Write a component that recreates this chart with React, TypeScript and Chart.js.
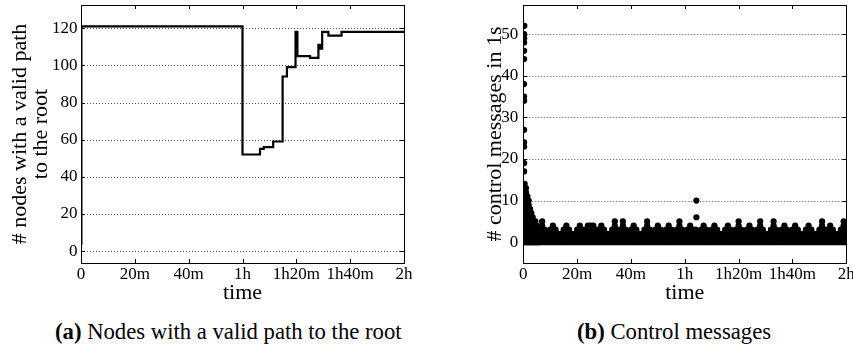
import React, { useEffect, useRef } from "react";
import { Chart, registerables } from "chart.js";

Chart.register(...registerables);

// ---------- data ----------
const xTickValues = [0, 20, 40, 60, 80, 100, 120]; // minutes
const xTickLabels = ["0", "20m", "40m", "1h", "1h20m", "1h40m", "2h"];
const nodeTicks = [0, 20, 40, 60, 80, 100, 120];
const msgTicks = [0, 10, 20, 30, 40, 50];

// (a) number of nodes with a valid path (step series, value holds until next change)
const stepTimes = [0, 0.15, 60.0, 66.5, 67.9, 71.4, 74.9, 76.5, 79.7, 80.0, 80.2, 80.4, 85.1, 88.2, 88.8, 89.6, 91.9, 96.8, 120];
const nodeCounts = [4, 121, 52, 55, 56, 59, 94, 99, 118, 105, 118, 105, 104, 111, 109, 118, 116, 118, 118];

// (b) control messages: dense band, per sample window the highest count seen
// (every count from 0 up to that maximum occurs within the window)
const bandTimes = [
  0, 0.5, 1, 1.5, 2, 2.5, 3, 3.5, 4, 4.5, 5, 5.5, 6,
  7, 8, 9, 10, 11, 12, 13, 14, 15, 16,
  17, 18, 19, 20, 21, 22, 23, 24, 25, 26,
  27, 28, 29, 30, 31, 32, 33, 34, 35, 36,
  37, 38, 39, 40, 41, 42, 43, 44, 45, 46,
  47, 48, 49, 50, 51, 52, 53, 54, 55, 56,
  57, 58, 59, 60, 61, 62, 63, 64, 65, 66,
  67, 68, 69, 70, 71, 72, 73, 74, 75, 76,
  77, 78, 79, 80, 81, 82, 83, 84, 85, 86,
  87, 88, 89, 90, 91, 92, 93, 94, 95, 96,
  97, 98, 99, 100, 101, 102, 103, 104, 105, 106,
  107, 108, 109, 110, 111, 112, 113, 114, 115, 116,
  117, 118, 119, 120,
];
const bandMax = [
  14, 14, 13, 11, 10, 8, 7, 6, 5, 5, 4, 3, 2,
  5, 3, 2, 3, 4, 3, 2, 2, 3, 4,
  3, 2, 2, 3, 4, 3, 3, 4, 4, 4,
  3, 3, 4, 3, 2, 2, 3, 5, 3, 3,
  5, 3, 2, 3, 4, 3, 2, 2, 3, 5,
  3, 2, 3, 4, 3, 2, 3, 4, 3, 2,
  3, 5, 3, 2, 3, 4, 3, 3, 2, 3,
  4, 3, 2, 3, 4, 3, 2, 2, 3, 4,
  3, 2, 3, 5, 3, 2, 3, 4, 3, 2,
  3, 5, 3, 2, 2, 3, 5, 3, 2, 3,
  4, 3, 2, 3, 4, 3, 2, 2, 3, 4,
  3, 2, 2, 3, 5, 3, 3, 4, 3, 2,
  2, 3, 5, 3,
];
// isolated high counts
const isolatedTimes = [0.4, 0.3, 0.3, 0.3, 0.3, 0.3, 0.3, 0.3, 0.3, 0.3, 0.3, 0.3, 0.3, 0.3, 64.3, 64.3];
const isolatedCounts = [52, 50, 49, 48, 46, 44, 38, 35, 34, 27, 24, 23, 19, 17, 10, 6];

// ---------- styling ----------
const FONT = "'Liberation Serif', 'Times New Roman', serif";
const TICK_FONT = { family: FONT, size: 17 };
const TITLE_SIZE = 22;

const framePlugin = {
  id: "frame",
  beforeDatasetsDraw(chart: any) {
    const { ctx, chartArea: a, scales } = chart;
    const y = scales.y;
    ctx.save();
    ctx.strokeStyle = "#555";
    ctx.lineWidth = 1;
    ctx.setLineDash([1, 2]);
    y.ticks.forEach((t: any) => {
      const py = Math.round(y.getPixelForValue(t.value)) + 0.5;
      ctx.beginPath();
      ctx.moveTo(a.left, py);
      ctx.lineTo(a.right, py);
      ctx.stroke();
    });
    ctx.restore();
  },
  afterDatasetsDraw(chart: any) {
    const { ctx, chartArea: a, scales } = chart;
    const x = scales.x;
    const y = scales.y;
    const L = 4;
    ctx.save();
    ctx.strokeStyle = "#000";
    ctx.lineWidth = 1;
    ctx.setLineDash([]);
    ctx.strokeRect(Math.round(a.left) + 0.5, Math.round(a.top) + 0.5, Math.round(a.right - a.left), Math.round(a.bottom - a.top));
    ctx.beginPath();
    x.ticks.forEach((t: any) => {
      const px = Math.round(x.getPixelForValue(t.value)) + 0.5;
      ctx.moveTo(px, a.bottom);
      ctx.lineTo(px, a.bottom - L);
      ctx.moveTo(px, a.top);
      ctx.lineTo(px, a.top + L);
    });
    y.ticks.forEach((t: any) => {
      const py = Math.round(y.getPixelForValue(t.value)) + 0.5;
      ctx.moveTo(a.left, py);
      ctx.lineTo(a.left + L, py);
      ctx.moveTo(a.right, py);
      ctx.lineTo(a.right - L, py);
    });
    ctx.stroke();
    ctx.restore();
  },
};

function makeXScale() {
  return {
    type: "linear",
    min: 0,
    max: 120,
    afterBuildTicks: (s: any) => {
      s.ticks = xTickValues.map((v) => ({ value: v }));
    },
    afterFit: (s: any) => {
      s.height = 37;
      s.paddingLeft = 0;
      s.paddingRight = 0;
    },
    grid: { display: false, drawTicks: false },
    border: { display: false },
    ticks: {
      autoSkip: false,
      maxRotation: 0,
      minRotation: 0,
      padding: 1.4,
      color: "#000",
      font: TICK_FONT,
      callback: (v: number) => xTickLabels[xTickValues.indexOf(v)],
    },
    title: {
      display: true,
      text: "time",
      color: "#000",
      font: { family: FONT, size: TITLE_SIZE, lineHeight: 0.62 },
      padding: { top: 0, bottom: 0 },
    },
  };
}

function makeYScale(min: number, max: number, ticks: number[], width: number, tickPad: number, title: any, titlePad: number) {
  return {
    type: "linear",
    min,
    max,
    afterBuildTicks: (s: any) => {
      s.ticks = ticks.map((v) => ({ value: v }));
    },
    afterFit: (s: any) => {
      s.width = width;
      s.paddingTop = 0;
      s.paddingBottom = 0;
    },
    grid: { display: false, drawTicks: false },
    border: { display: false },
    ticks: { padding: tickPad, color: "#000", font: TICK_FONT, callback: (v: number) => String(v) },
    title: {
      display: true,
      text: title,
      color: "#000",
      font: { family: FONT, size: TITLE_SIZE, lineHeight: 21 / TITLE_SIZE },
      padding: { top: titlePad, bottom: 0 },
    },
  };
}

function nodesConfig(): any {
  return {
    type: "line",
    data: {
      datasets: [
        {
          data: stepTimes.map((t, i) => ({ x: t, y: nodeCounts[i] })),
          stepped: "before",
          borderColor: "#000",
          borderWidth: 2.2,
          pointRadius: 0,
          fill: false,
        },
      ],
    },
    options: {
      animation: false,
      responsive: false,
      devicePixelRatio: 1,
      events: [],
      layout: { padding: { left: 0, top: 5, right: 26, bottom: 0 } },
      plugins: { legend: { display: false }, tooltip: { enabled: false } },
      scales: {
        x: makeXScale(),
        y: makeYScale(-6.4, 132.5, nodeTicks, 81, 3.5, ["# nodes with a valid path", "to the root"], 9.5),
      },
    },
    plugins: [framePlugin],
  };
}

function messagesConfig(): any {
  const pts: { x: number; y: number }[] = [];
  bandTimes.forEach((t, i) => {
    for (let c = 0; c <= bandMax[i]; c++) pts.push({ x: t, y: c });
  });
  isolatedTimes.forEach((t, i) => pts.push({ x: t, y: isolatedCounts[i] }));
  return {
    type: "scatter",
    data: {
      datasets: [
        {
          data: pts,
          backgroundColor: "#000",
          borderWidth: 0,
          pointRadius: 3.1,
          showLine: false,
        },
      ],
    },
    options: {
      animation: false,
      responsive: false,
      devicePixelRatio: 1,
      events: [],
      layout: { padding: { left: 0, top: 5, right: 23.7, bottom: 0 } },
      plugins: { legend: { display: false }, tooltip: { enabled: false } },
      scales: {
        x: makeXScale(),
        y: makeYScale(-5, 57, msgTicks, 93.3, 5, "# control messages in 1s", 54.5),
      },
    },
    plugins: [framePlugin],
  };
}

function ChartCanvas({ makeConfig, left, width, height }: { makeConfig: () => any; left: number; width: number; height: number }) {
  const ref = useRef<HTMLCanvasElement | null>(null);
  useEffect(() => {
    let chart: Chart | null = null;
    let cancelled = false;
    const build = () => {
      if (cancelled || !ref.current) return;
      chart = new Chart(ref.current, makeConfig());
    };
    const fonts = (document as any).fonts;
    if (fonts && fonts.load) {
      Promise.all([
        fonts.load("17px 'Liberation Serif'"),
        fonts.load("22px 'Liberation Serif'"),
      ]).then(build, build);
    } else {
      build();
    }
    return () => {
      cancelled = true;
      if (chart) chart.destroy();
    };
  }, []);
  return (
    <canvas
      ref={ref}
      width={width}
      height={height}
      style={{ position: "absolute", left, top: 0, width, height }}
    />
  );
}

const captionStyle: React.CSSProperties = {
  position: "absolute",
  top: 321,
  fontFamily: FONT,
  fontSize: 22.7,
  lineHeight: "22.7px",
  whiteSpace: "nowrap",
  color: "#000",
};

export default function App() {
  return (
    <div
      style={{
        position: "fixed",
        left: 0,
        top: 0,
        width: 853,
        height: 347,
        overflow: "hidden",
        background: "#fff",
      }}
    >
      <ChartCanvas makeConfig={nodesConfig} left={0} width={430} height={300} />
      <ChartCanvas makeConfig={messagesConfig} left={430} width={440} height={300} />
      <div style={{ ...captionStyle, left: 55 }}>
        <b>(a)</b> Nodes with a valid path to the root
      </div>
      <div style={{ ...captionStyle, left: 577 }}>
        <b>(b)</b> Control messages
      </div>
    </div>
  );
}
